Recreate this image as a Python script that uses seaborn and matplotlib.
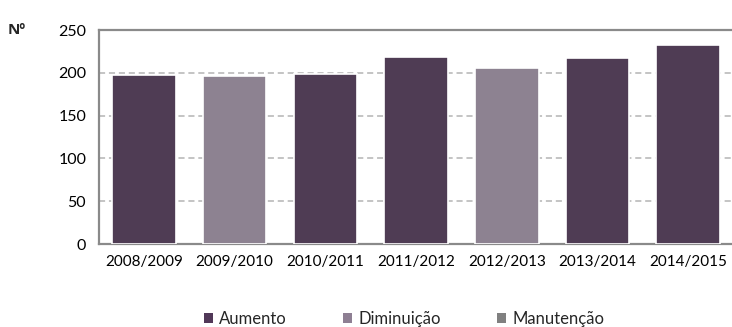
import matplotlib
matplotlib.use("Agg")
import matplotlib.pyplot as plt
import seaborn as sns
import pandas as pd
from matplotlib.patches import Patch

# values
anos = ["2008/2009", "2009/2010", "2010/2011", "2011/2012",
        "2012/2013", "2013/2014", "2014/2015"]
valores = [198, 196, 199, 219, 206, 217, 233]
tipo = ["Aumento", "Diminuição", "Aumento", "Aumento",
        "Diminuição", "Aumento", "Aumento"]
categorias = ["Aumento", "Diminuição", "Manutenção"]
cores = {"Aumento": "#513858", "Diminuição": "#8e7f93", "Manutenção": "#808080"}

df = pd.DataFrame({"ano": anos, "valor": valores, "tipo": tipo})

sns.set_theme(style="white")
plt.rcParams["font.family"] = ["Lato", "DejaVu Sans"]

fig = plt.figure(figsize=(7.32, 3.27), dpi=100)
ax = fig.add_axes([98.7 / 732, 1 - 244 / 327, (733.5 - 98.7) / 732, 214 / 327])

sns.barplot(data=df, x="ano", y="valor", hue="tipo", palette=cores,
            dodge=False, width=0.7, edgecolor="white", linewidth=1.2,
            legend=False, ax=ax, zorder=3)

ax.set_ylim(0, 250)
ax.set_xlim(-0.5, 6.5)
ax.set_yticks(range(0, 251, 50))
ax.set_xlabel("")
ax.set_ylabel("")

# dashed grid
for y in range(50, 250, 50):
    ax.axhline(y, color="#b4b4b4", lw=1.1, ls=(0, (4, 2.5)), zorder=1)

grey = "#8a8a8a"
for s in ["left", "bottom", "top"]:
    ax.spines[s].set_color(grey)
    ax.spines[s].set_linewidth(1.6)
ax.spines["right"].set_visible(False)

# ticks: x ticks at category boundaries
ax.set_xticks([i + 0.5 for i in range(-1, 7)], minor=True)
ax.tick_params(axis="x", which="major", length=0, pad=8, labelsize=11, labelcolor="black")
ax.tick_params(axis="x", which="minor", length=5, width=1.4, color=grey, direction="inout")
ax.tick_params(axis="y", which="major", length=5, width=1.4, color=grey,
               direction="out", pad=4, labelsize=11.5, labelcolor="black")

fig.text(8 / 732, 1 - 30 / 327, "Nº", fontsize=11, fontweight="bold", va="center",
         family=["Open Sans", "DejaVu Sans"])

handles = [Patch(facecolor=cores[c], edgecolor="none", label=c) for c in categorias]
fig.legend(handles=handles, loc="center", bbox_to_anchor=(404 / 732, 1 - 319 / 327),
           ncol=3, frameon=False, fontsize=12, handlelength=0.55, handleheight=0.55,
           handletextpad=0.35, columnspacing=3.4)

fig.savefig("out.png", dpi=100)
